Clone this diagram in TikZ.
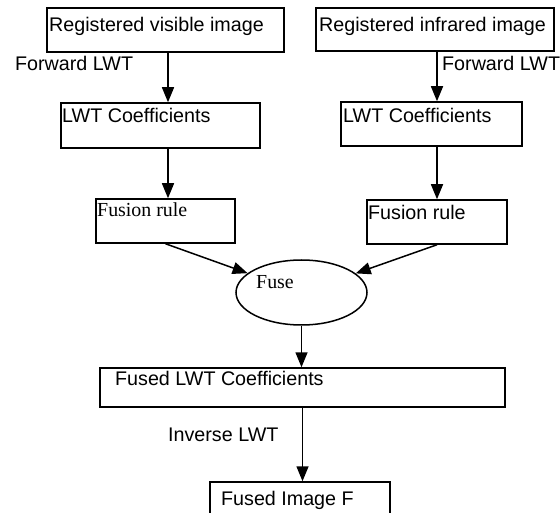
\documentclass[tikz,border=0pt]{standalone}
\usepackage{fontspec}
\setmainfont{Liberation Serif}
\newfontfamily\arialf{Liberation Sans}
\usetikzlibrary{arrows.meta,shapes.geometric}
\begin{document}
\begin{tikzpicture}[x=1pt,y=-1pt,
  boxs/.style={draw,line width=1.5pt,rectangle,inner sep=0pt},
  ellips/.style={draw,line width=1.5pt,ellipse,inner sep=0pt,minimum width=131pt,minimum height=65pt},
  sans/.style={inner sep=0pt,anchor=base west,font=\arialf\fontsize{19.7}{24}\selectfont},
  serif/.style={inner sep=0pt,anchor=base west,font=\fontsize{19.9}{24}\selectfont},
  arr/.style={line width=1.5pt,-{Triangle[length=15pt,width=12pt]}}]
\useasboundingbox (0,0) rectangle (560,513);
\clip (0,0) rectangle (560,513);
% boxes
\node[boxs,minimum width=237pt,minimum height=44pt] (b1) at (165.5,30) {};
\node[boxs,minimum width=238pt,minimum height=43pt] (b2) at (435,29.5) {};
\node[boxs,minimum width=199pt,minimum height=45pt] (l1) at (160.5,125.5) {};
\node[boxs,minimum width=181pt,minimum height=44pt] (l2) at (431.5,124) {};
\node[boxs,minimum width=139pt,minimum height=44pt] (f1) at (165.5,221) {};
\node[boxs,minimum width=140pt,minimum height=44pt] (f2) at (437,222) {};
\node[ellips] (fuse) at (301.5,292.5) {};
\node[boxs,minimum width=405pt,minimum height=39pt] (c) at (302.5,387.5) {};
\node[boxs,minimum width=180pt,minimum height=60pt] (F) at (300,512) {};
% texts
\node[sans] (tb1) at (49,32) {Registered visible image};
\node[sans] (tb2) at (319,32) {Registered infrared image};
\node[sans] (fw1) at (15,71) {Forward LWT};
\node[sans] (fw2) at (442,71) {Forward LWT};
\node[sans] (tl1) at (62,123) {LWT Coefficients};
\node[sans] (tl2) at (343,123) {LWT Coefficients};
\node[serif] (tf1) at (97,217) {Fusion rule};
\node[sans] (tf2) at (368,220) {Fusion rule};
\node[serif] (tfuse) at (256,289) {Fuse};
\node[sans] (tc) at (115,385) {Fused LWT Coefficients};
\node[sans] (tinv) at (168,441) {Inverse LWT};
\node[sans] (tF) at (221,505) {Fused Image F};
% connectors
\coordinate (xl) at (168,0);
\coordinate (xr) at (437,0);
\draw[arr] (b1.south -| xl) -- (l1.north -| xl);
\draw[arr] (l1.south -| xl) -- (f1.north -| xl);
\draw[arr] (b2.south -| xr) -- (l2.north -| xr);
\draw[arr] (l2.south -| xr) -- (f2.north -| xr);
\draw[arr] (f1.south) -- (fuse);
\draw[arr] (f2.south) -- (fuse);
\draw[arr] (fuse.south) -- (fuse.south |- c.north);
\draw[arr] (c.south) -- (c.south |- F.north);
\end{tikzpicture}
\end{document}
